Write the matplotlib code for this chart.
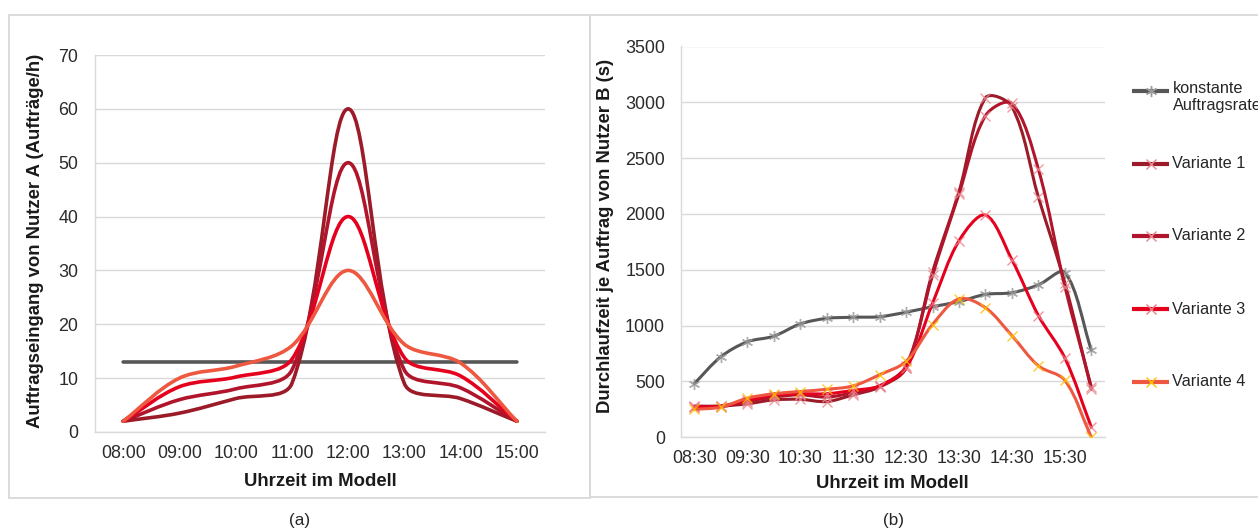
import numpy as np
import matplotlib
matplotlib.use("Agg")
import matplotlib.pyplot as plt
from matplotlib.path import Path
from matplotlib.patches import PathPatch, Rectangle
from matplotlib.lines import Line2D

plt.rcParams['font.family'] = ['Liberation Sans', 'DejaVu Sans']

# ---------------- data: chart (a) ----------------
times_a = ['08:00', '09:00', '10:00', '11:00', '12:00', '13:00', '14:00', '15:00']
konst_a = [13, 13, 13, 13, 13, 13, 13, 13]
v1_a = [2, 3.5, 6.2, 9, 60, 9, 6.2, 2]
v2_a = [2, 6.0, 8.0, 11.5, 50, 11.5, 8.2, 2]
v3_a = [2, 8.4, 10.2, 13.5, 40, 13.8, 10.4, 2]
v4_a = [2, 10.0, 12.2, 16.0, 30, 16.3, 12.8, 2]

# ---------------- data: chart (b) ----------------
times_b = ['08:30', '09:00', '09:30', '10:00', '10:30', '11:00', '11:30', '12:00',
           '12:30', '13:00', '13:30', '14:00', '14:30', '15:00', '15:30', '16:00']
konst_b = [480, 720, 855, 905, 1015, 1065, 1075, 1080, 1120, 1170, 1215, 1280, 1295, 1365, 1475, 780]
v1_b = [280, 280, 300, 335, 340, 320, 380, 450, 620, 1480, 2200, 3040, 2960, 2150, 1380, 430]
v2_b = [270, 275, 320, 360, 380, 360, 400, 460, 640, 1450, 2180, 2880, 2990, 2400, 1350, 450]
v3_b = [270, 280, 330, 380, 390, 390, 420, 460, 620, 1200, 1760, 1990, 1590, 1090, 710, 90]
v4_b = [250, 270, 350, 390, 410, 430, 460, 560, 680, 1010, 1240, 1160, 910, 640, 510, 0]

labels = ['konstante\nAuftragsrate', 'Variante 1', 'Variante 2', 'Variante 3', 'Variante 4']
line_colors = ['#575757', '#9B1B28', '#B0152B', '#E5011E', '#EE5840']
marker_colors = ['#9A9A9A', '#E8868E', '#E8868E', '#F07C88', '#FFC000']
markers = [(6, 2, 0), 'x', 'x', 'x', 'x']

W, H = 1258, 532
fig = plt.figure(figsize=(W / 100, H / 100), dpi=100)


def frac_rect(l, t, r, b):
    return [l / W, 1 - b / H, (r - l) / W, (b - t) / H]


def smooth_line(ax, xs, ys, color, lw, z):
    """Excel-like smoothed line: cubic Bezier segments, control points from
    neighbouring points (computed in display space)."""
    pts = ax.transData.transform(np.column_stack([xs, ys]).astype(float))
    n = len(pts)
    fwd, bwd = [], []
    for i in range(n):
        p_prev = pts[i - 1] if i > 0 else pts[i]
        p_next = pts[i + 1] if i < n - 1 else pts[i]
        d0 = np.hypot(*(pts[i] - p_prev))
        d1 = np.hypot(*(p_next - pts[i]))
        T = p_next - p_prev
        s = d0 + d1 if d0 + d1 > 0 else 1.0
        fwd.append(pts[i] + T * d1 / s / 3.0)
        bwd.append(pts[i] - T * d0 / s / 3.0)
    verts = [pts[0]]
    codes = [Path.MOVETO]
    for i in range(n - 1):
        verts += [fwd[i], bwd[i + 1], pts[i + 1]]
        codes += [Path.CURVE4] * 3
    verts = ax.transData.inverted().transform(np.array(verts))
    patch = PathPatch(Path(verts, codes), facecolor='none', edgecolor=color,
                      lw=lw, capstyle='round', joinstyle='round', zorder=z)
    ax.add_patch(patch)


def style_axes(ax):
    for s in ['top', 'right']:
        ax.spines[s].set_visible(False)
    for s in ['left', 'bottom']:
        ax.spines[s].set_color('#D9D9D9')
        ax.spines[s].set_linewidth(1.0)
    ax.grid(axis='y', color='#D9D9D9', lw=1.0)
    ax.set_axisbelow(True)
    ax.tick_params(length=0, labelsize=12.9, labelcolor='#2b2b2b')


# panel frames
fig.add_artist(Rectangle((9 / W, 1 - 498 / H), (590 - 9) / W, (498 - 15) / H,
                         transform=fig.transFigure, fill=False, ec='#D9D9D9', lw=1.3))
fig.add_artist(Rectangle((590 / W, 1 - 497 / H), 700 / W, (497 - 15) / H,
                         transform=fig.transFigure, fill=False, ec='#D9D9D9', lw=1.3))

# ---------------- chart (a) ----------------
axA = fig.add_axes(frac_rect(95, 55, 545, 432))
axA.set_xlim(-0.5, len(times_a) - 0.5)
axA.set_ylim(0, 70)
axA.set_yticks(np.arange(0, 71, 10))
axA.set_xticks(range(len(times_a)))
axA.set_xticklabels(times_a)
style_axes(axA)
axA.tick_params(axis='x', pad=9)
axA.tick_params(axis='y', pad=12)
xa = np.arange(len(times_a))
for ys, c, z in zip([konst_a, v1_a, v2_a, v3_a, v4_a], line_colors, [3, 4, 5, 6, 7]):
    smooth_line(axA, xa, ys, c, 2.6, z)
axA.set_xlabel('Uhrzeit im Modell', fontsize=13.3, fontweight='bold', color='#1a1a1a', va='center')
axA.xaxis.set_label_coords(0.5, -(481 - 432) / 377)
axA.set_ylabel('Auftragseingang von Nutzer A (Aufträge/h)', fontsize=13.3, fontweight='bold',
               color='#1a1a1a', va='center')
axA.yaxis.set_label_coords((36 - 95) / 450, 0.508)

# ---------------- chart (b) ----------------
axB = fig.add_axes(frac_rect(681, 46.5, 1104.6, 437.3))
axB.set_xlim(-0.5, len(times_b) - 0.5)
axB.set_ylim(0, 3500)
axB.set_yticks(np.arange(0, 3501, 500))
axB.set_xticks(range(0, len(times_b), 2))
axB.set_xticklabels(times_b[::2])
style_axes(axB)
axB.tick_params(axis='x', pad=9)
axB.tick_params(axis='y', pad=11.5)
xb = np.arange(len(times_b))
for ys, c, mc, m, z in zip([konst_b, v1_b, v2_b, v3_b, v4_b], line_colors, marker_colors,
                           markers, [3, 4, 5, 6, 7]):
    smooth_line(axB, xb, ys, c, 2.2, z)
    axB.plot(xb, ys, linestyle='none', marker=m, ms=8 if m != 'x' else 6.5,
             mec=mc, mfc='none', mew=1.0, alpha=0.8, zorder=z + 0.5)
axB.set_xlabel('Uhrzeit im Modell', fontsize=13.3, fontweight='bold', color='#1a1a1a', va='center')
axB.xaxis.set_label_coords(0.5, -(484 - 437.3) / 390.8)
axB.set_ylabel('Durchlaufzeit je Auftrag von Nutzer B (s)', fontsize=13.3, fontweight='bold',
               color='#1a1a1a', va='center')
axB.yaxis.set_label_coords((605 - 681) / 423.6, 0.514)

# ---------------- legend (manual, Excel-like placement) ----------------
leg_y = [91, 164, 236, 309, 381.5]
for lab, y, c, mc, m in zip(labels, leg_y, line_colors, marker_colors, markers):
    yf = 1 - y / H
    fig.add_artist(Line2D([1132 / W, 1169 / W], [yf, yf], transform=fig.transFigure,
                          color=c, lw=3.0, solid_capstyle='butt'))
    fig.add_artist(Line2D([1150.5 / W], [yf], transform=fig.transFigure, linestyle='none',
                          marker=m, ms=8 if m != 'x' else 6.5, mec=mc, mfc='none', mew=1.0))
    if '\n' in lab:
        fig.text(1172.5 / W, 1 - (y - 10) / H, lab, ha='left', va='top', fontsize=11.7,
                 color='#262626', linespacing=1.14)
    else:
        fig.text(1172.5 / W, yf, lab, ha='left', va='center', fontsize=11.7, color='#262626')

# sub captions
fig.text(300 / W, 1 - 521 / H, '(a)', ha='center', va='center', fontsize=12.3, color='#262626')
fig.text(893 / W, 1 - 521 / H, '(b)', ha='center', va='center', fontsize=12.3, color='#262626')

fig.savefig('out.png', dpi=100, facecolor='white')
